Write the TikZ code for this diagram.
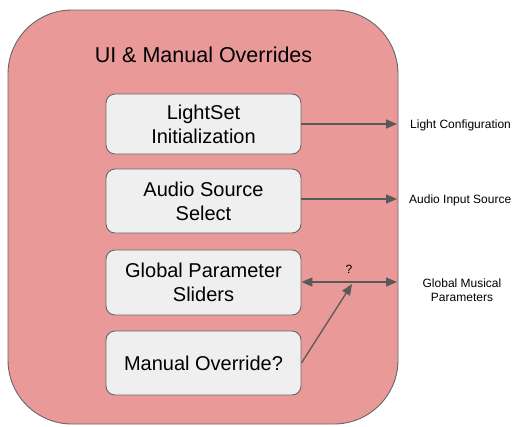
\documentclass[tikz,border=0pt]{standalone}
\usepackage{fontspec}
\setmainfont{Liberation Sans}
\usetikzlibrary{arrows.meta}
\definecolor{panelred}{HTML}{EA9999}
\definecolor{boxgray}{HTML}{EFEFEF}
\definecolor{edgegray}{HTML}{666666}
\definecolor{linkgray}{HTML}{595959}
\tikzset{
  panel/.style={draw=edgegray, line width=0.9pt, fill=panelred, rounded corners=64pt},
  stagebox/.style={draw=edgegray, line width=0.9pt, fill=boxgray, rounded corners=9pt,
    minimum width=195pt, align=center, inner sep=0pt,
    font=\fontsize{20}{24}\selectfont},
  link/.style={draw=linkgray, line width=1.3pt, -{Triangle[length=11pt,width=9pt]}},
  duallink/.style={draw=linkgray, line width=1.3pt,
    {Triangle[length=11pt,width=9pt]}-{Triangle[length=11pt,width=9pt]}},
  outlabel/.style={font=\fontsize{12}{14}\selectfont, align=center, inner sep=0pt}
}
\begin{document}
\begin{tikzpicture}[x=1pt,y=-1pt]
  \useasboundingbox (0,0) rectangle (514,426);
  % enclosing group
  \path[panel] (8,10) rectangle (398,424);
  \node[font=\fontsize{21.5}{25}\selectfont] (title) at (203.5,55) {UI \& Manual Overrides};

  % inner stages
  \node[stagebox, minimum height=60pt] (light) at (203.5,124) {LightSet\\Initialization};
  \node[stagebox, minimum height=64pt] (audio) at (203.5,201) {Audio Source\\Select};
  \node[stagebox, minimum height=65pt] (sliders) at (203.5,282.5) {Global Parameter\\Sliders};
  \node[stagebox, minimum height=64pt] (manual) at (203.5,363) {Manual Override?};

  % outputs
  \coordinate (lightEnd) at (397,124);
  \coordinate (audioEnd) at (397,199);
  \coordinate (paramEnd) at (397,282);
  \coordinate (junction) at (352,284);

  \node[outlabel, anchor=west] (lightLbl) at (410,125) {Light Configuration};
  \node[outlabel, anchor=west] (audioLbl) at (409,200) {Audio Input Source};
  \node[outlabel] (paramLbl) at (462,290) {Global Musical\\Parameters};
  \node[outlabel] (qmark) at (349,269) {?};

  \draw[link] (light.east |- lightEnd) -- (lightEnd);
  \draw[link] (audio.east |- audioEnd) -- (audioEnd);
  \draw[duallink] (sliders.east |- paramEnd) -- (paramEnd);
  \draw[link] (manual.east) -- (junction);
\end{tikzpicture}
\end{document}
